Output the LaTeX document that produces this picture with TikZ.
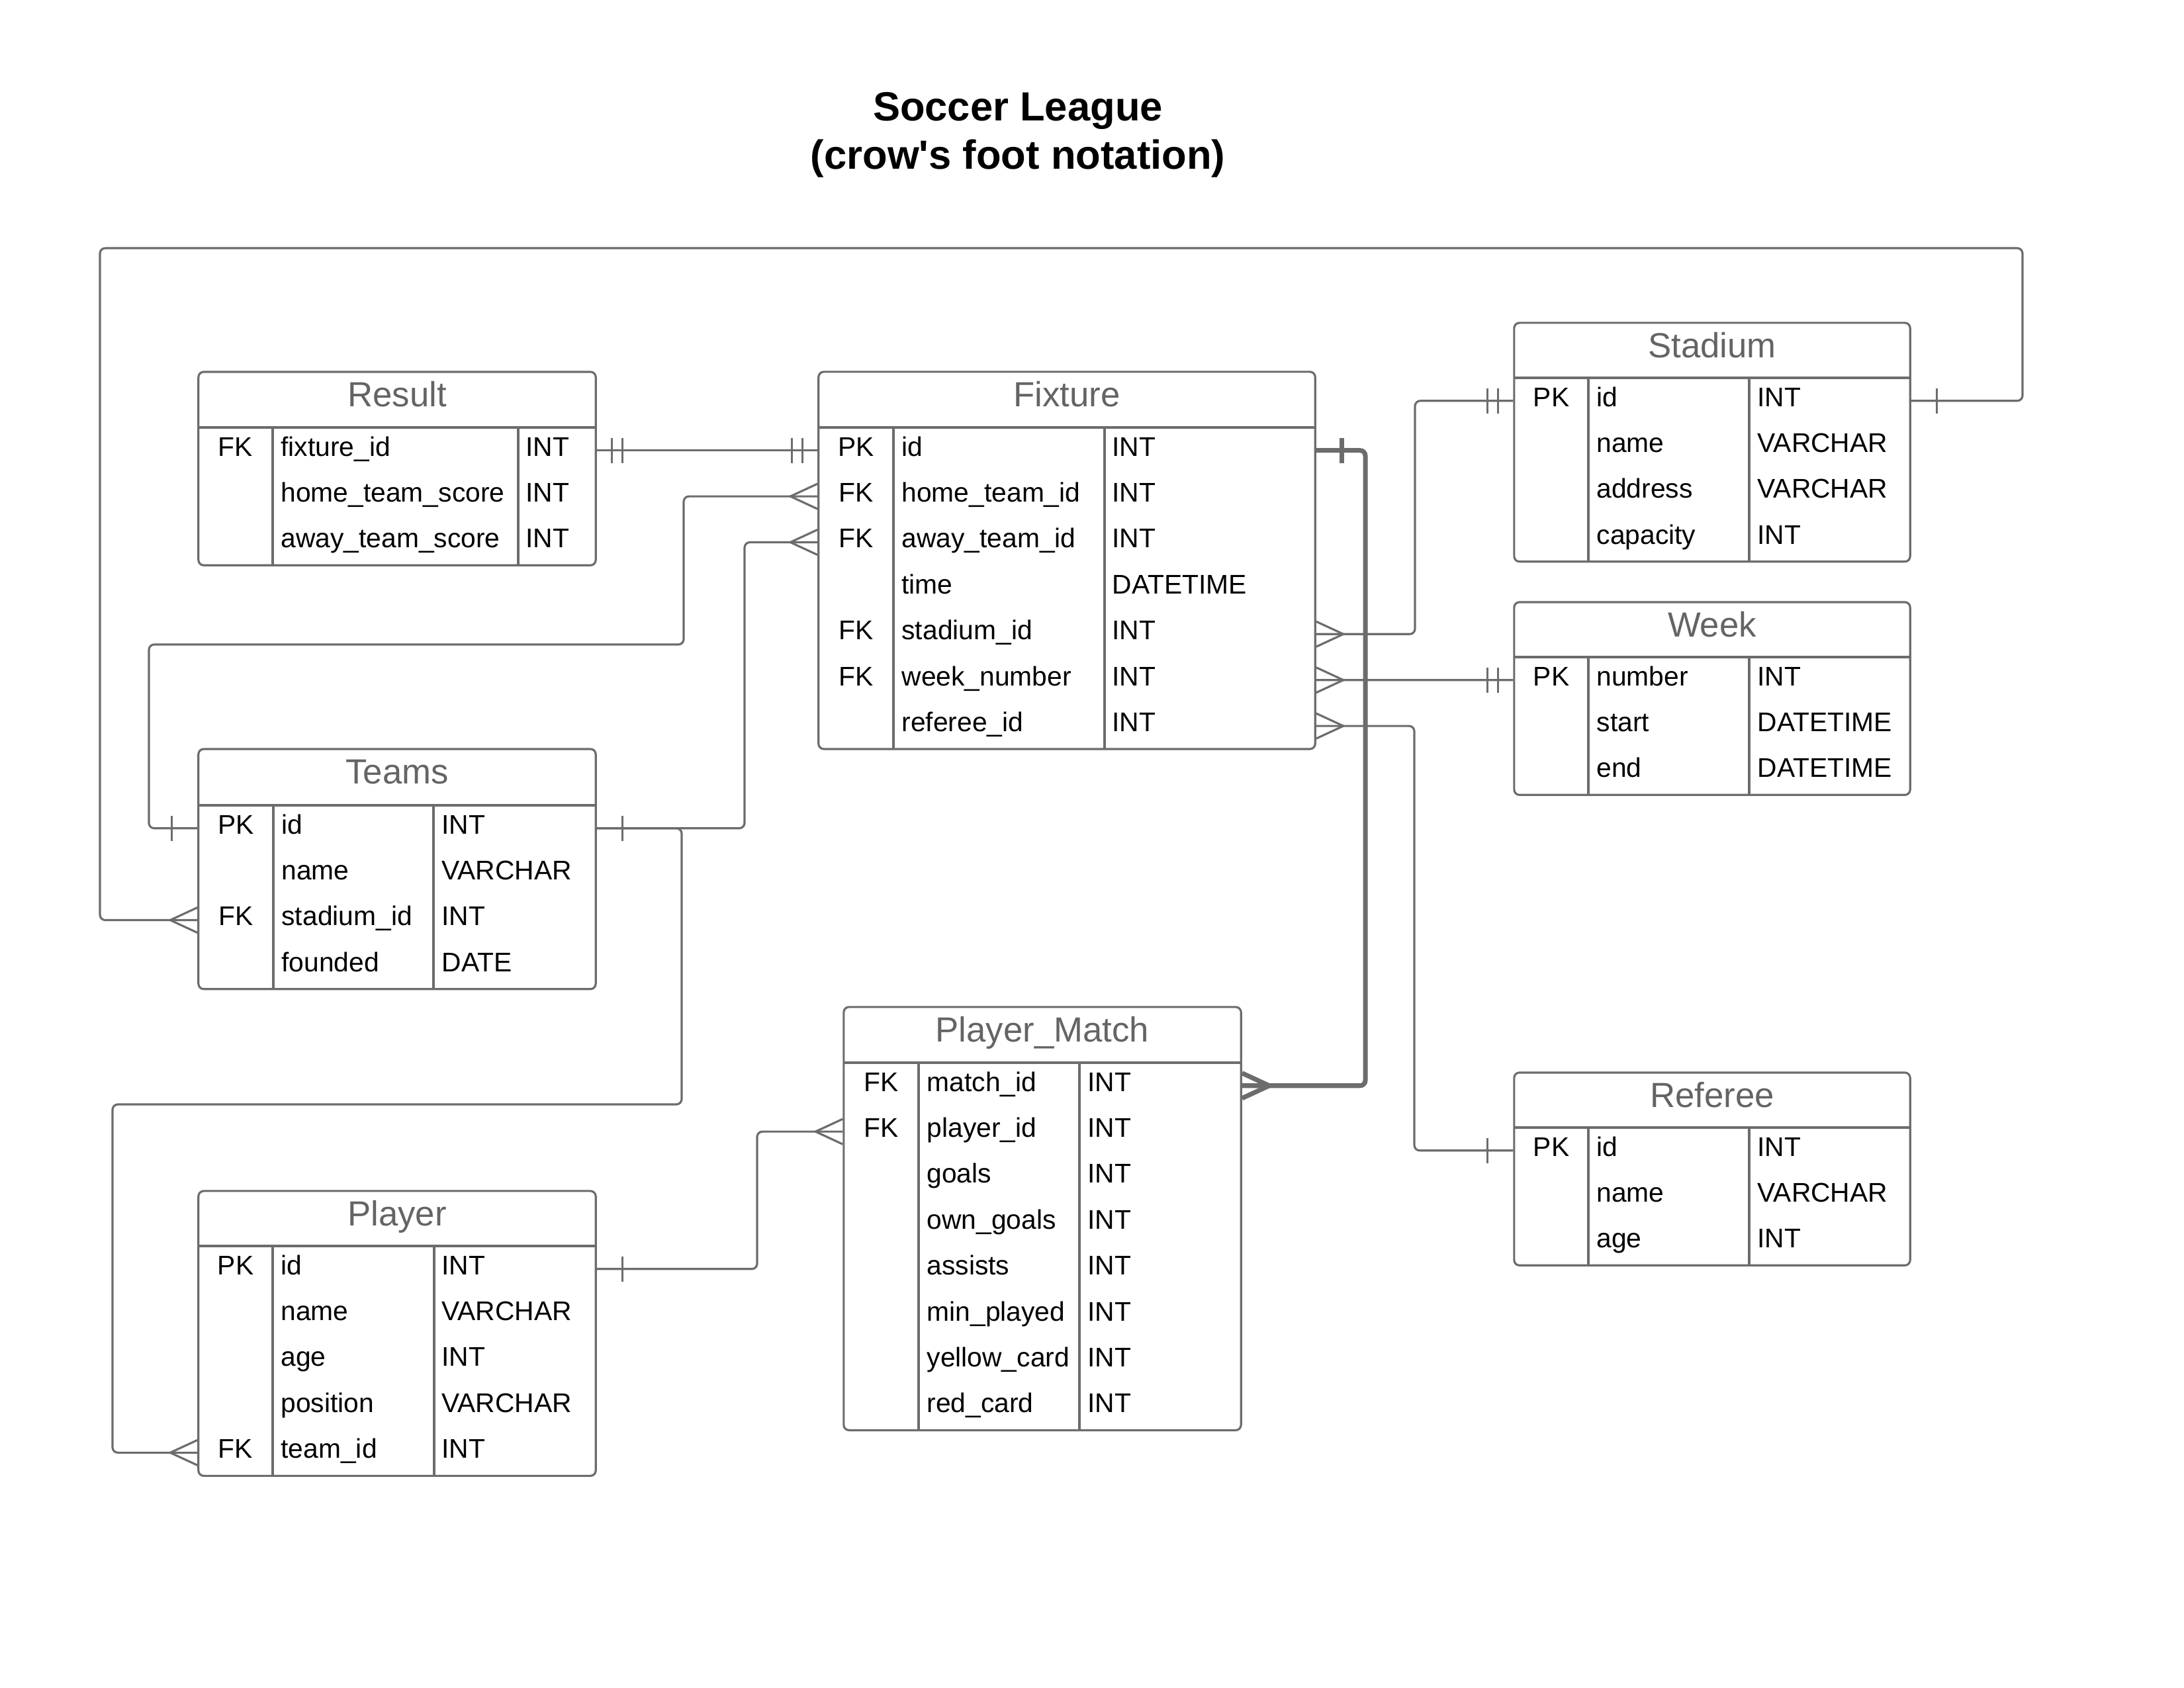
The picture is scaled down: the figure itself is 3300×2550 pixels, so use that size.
\documentclass[tikz,border=0pt]{standalone}
\usepackage{fontspec}
\setmainfont{Liberation Sans}
\usetikzlibrary{decorations.markings}
\definecolor{linegray}{RGB}{108,108,108}
\definecolor{titlegray}{RGB}{100,100,100}

\begin{document}
\begin{tikzpicture}[
		x=0.01cm, y=-0.01cm,
		line width=0.9pt,
		tablebox/.style={draw=linegray, rounded corners=0.08cm, inner sep=0pt},
		divider/.style={draw=linegray},
		tabletitle/.style={anchor=base, inner sep=0pt, text=titlegray, font=\fontsize{15}{18}\selectfont},
		keytext/.style={anchor=base, inner sep=0pt, font=\fontsize{11.6}{14}\selectfont},
		fieldtext/.style={anchor=base west, inner sep=0pt, font=\fontsize{11.6}{14}\selectfont},
		fieldrow/.style={minimum height=0.694cm, inner sep=0pt},
		link/.style={color=linegray, rounded corners=0.08cm},
		one at start/.style={postaction={decorate, decoration={markings,
			mark=at position 0.39cm with {\draw[linegray, sharp corners] (0,-19) -- (0,19);}}}},
		one at end/.style={postaction={decorate, decoration={markings,
			mark=at position -0.39cm with {\draw[linegray, sharp corners] (0,-19) -- (0,19);}}}},
		onlyone at start/.style={postaction={decorate, decoration={markings,
			mark=at position 0.23cm with {\draw[linegray, sharp corners] (0,-19) -- (0,19);},
			mark=at position 0.39cm with {\draw[linegray, sharp corners] (0,-19) -- (0,19);}}}},
		onlyone at end/.style={postaction={decorate, decoration={markings,
			mark=at position -0.23cm with {\draw[linegray, sharp corners] (0,-19) -- (0,19);},
			mark=at position -0.39cm with {\draw[linegray, sharp corners] (0,-19) -- (0,19);}}}},
		many at start/.style={postaction={decorate, decoration={markings,
			mark=at position 0.41cm with {\draw[linegray, sharp corners] (-41,-19) -- (0,0) -- (-41,19);}}}},
		many at end/.style={postaction={decorate, decoration={markings,
			mark=at position -0.41cm with {\draw[linegray, sharp corners] (41,-19) -- (0,0) -- (41,19);}}}},
	]
	\useasboundingbox (0,0) rectangle (3300,2550);

	% heading
	\node[anchor=base, inner sep=0pt, font=\bfseries\fontsize{17.5}{21}\selectfont] (title-a) at (1538,182) {Soccer League};
	\node[anchor=base, inner sep=0pt, font=\bfseries\fontsize{17.5}{21}\selectfont] (title-b) at (1538,255) {(crow\textquotesingle s foot notation)};

	% Result
	\node[tablebox, minimum width=6cm, minimum height=2.922cm] (res) at (600,708.1) {};
	\node[tabletitle] (res-title) at (600,614) {Result};
	\draw[divider] (300,646) -- (900,646) (412,646) -- (412,854.2) (783,646) -- (783,854.2);
	\foreach \k/\n/\t [count=\i] in {FK/fixture\_id/INT, /home\_team\_score/INT, /away\_team\_score/INT} {
		\node[fieldrow, minimum width=6cm] (res-\i) at (600,{611.3+69.4*\i}) {};
		\node[keytext] (res-k\i) at (356,{619.6+69.4*\i}) {\k};
		\node[fieldtext] (res-n\i) at (423,{619.6+69.4*\i}) {\n};
		\node[fieldtext] (res-t\i) at (793,{619.6+69.4*\i}) {\t};
	}

	% Fixture
	\node[tablebox, minimum width=7.5cm, minimum height=5.698cm] (fix) at (1612,846.9) {};
	\node[tabletitle] (fix-title) at (1612,614) {Fixture};
	\draw[divider] (1237,646) -- (1987,646) (1350,646) -- (1350,1131.8) (1669,646) -- (1669,1131.8);
	\foreach \k/\n/\t [count=\i] in {PK/id/INT, FK/home\_team\_id/INT, FK/away\_team\_id/INT, /time/DATETIME,
			FK/stadium\_id/INT, FK/week\_number/INT, /referee\_id/INT} {
		\node[fieldrow, minimum width=7.5cm] (fix-\i) at (1612,{611.3+69.4*\i}) {};
		\node[keytext] (fix-k\i) at (1293.5,{619.6+69.4*\i}) {\k};
		\node[fieldtext] (fix-n\i) at (1361,{619.6+69.4*\i}) {\n};
		\node[fieldtext] (fix-t\i) at (1679,{619.6+69.4*\i}) {\t};
	}

	% Stadium
	\node[tablebox, minimum width=5.98cm, minimum height=3.606cm] (st) at (2587,668.3) {};
	\node[tabletitle] (st-title) at (2587,540) {Stadium};
	\draw[divider] (2288,571) -- (2886,571) (2400,571) -- (2400,848.6) (2643,571) -- (2643,848.6);
	\foreach \k/\n/\t [count=\i] in {PK/id/INT, /name/VARCHAR, /address/VARCHAR, /capacity/INT} {
		\node[fieldrow, minimum width=5.98cm] (st-\i) at (2587,{536.3+69.4*\i}) {};
		\node[keytext] (st-k\i) at (2344,{544.6+69.4*\i}) {\k};
		\node[fieldtext] (st-n\i) at (2411,{544.6+69.4*\i}) {\n};
		\node[fieldtext] (st-t\i) at (2654,{544.6+69.4*\i}) {\t};
	}

	% Week
	\node[tablebox, minimum width=5.98cm, minimum height=2.912cm] (wk) at (2587,1055.6) {};
	\node[tabletitle] (wk-title) at (2587,962) {Week};
	\draw[divider] (2288,993) -- (2886,993) (2400,993) -- (2400,1201.2) (2643,993) -- (2643,1201.2);
	\foreach \k/\n/\t [count=\i] in {PK/number/INT, /start/DATETIME, /end/DATETIME} {
		\node[fieldrow, minimum width=5.98cm] (wk-\i) at (2587,{958.3+69.4*\i}) {};
		\node[keytext] (wk-k\i) at (2344,{966.6+69.4*\i}) {\k};
		\node[fieldtext] (wk-n\i) at (2411,{966.6+69.4*\i}) {\n};
		\node[fieldtext] (wk-t\i) at (2654,{966.6+69.4*\i}) {\t};
	}

	% Referee
	\node[tablebox, minimum width=5.98cm, minimum height=2.912cm] (ref) at (2587,1766.6) {};
	\node[tabletitle] (ref-title) at (2587,1673) {Referee};
	\draw[divider] (2288,1704) -- (2886,1704) (2400,1704) -- (2400,1912.2) (2643,1704) -- (2643,1912.2);
	\foreach \k/\n/\t [count=\i] in {PK/id/INT, /name/VARCHAR, /age/INT} {
		\node[fieldrow, minimum width=5.98cm] (ref-\i) at (2587,{1669.3+69.4*\i}) {};
		\node[keytext] (ref-k\i) at (2344,{1677.6+69.4*\i}) {\k};
		\node[fieldtext] (ref-n\i) at (2411,{1677.6+69.4*\i}) {\n};
		\node[fieldtext] (ref-t\i) at (2654,{1677.6+69.4*\i}) {\t};
	}

	% Teams
	\node[tablebox, minimum width=6cm, minimum height=3.626cm] (ts) at (600,1313.3) {};
	\node[tabletitle] (ts-title) at (600,1184) {Teams};
	\draw[divider] (300,1217) -- (900,1217) (413,1217) -- (413,1494.6) (655,1217) -- (655,1494.6);
	\foreach \k/\n/\t [count=\i] in {PK/id/INT, /name/VARCHAR, FK/stadium\_id/INT, /founded/DATE} {
		\node[fieldrow, minimum width=6cm] (ts-\i) at (600,{1182.3+69.4*\i}) {};
		\node[keytext] (ts-k\i) at (356.5,{1190.6+69.4*\i}) {\k};
		\node[fieldtext] (ts-n\i) at (424,{1190.6+69.4*\i}) {\n};
		\node[fieldtext] (ts-t\i) at (666,{1190.6+69.4*\i}) {\t};
	}

	% Player_Match
	\node[tablebox, minimum width=6cm, minimum height=6.392cm] (pm) at (1575,1841.6) {};
	\node[tabletitle] (pm-title) at (1575,1574) {Player\_Match};
	\draw[divider] (1275,1606) -- (1875,1606) (1388,1606) -- (1388,2161.2) (1631,1606) -- (1631,2161.2);
	\foreach \k/\n/\t [count=\i] in {FK/match\_id/INT, FK/player\_id/INT, /goals/INT, /own\_goals/INT,
			/assists/INT, /min\_played/INT, /yellow\_card/INT, /red\_card/INT} {
		\node[fieldrow, minimum width=6cm] (pm-\i) at (1575,{1571.3+69.4*\i}) {};
		\node[keytext] (pm-k\i) at (1331.5,{1579.6+69.4*\i}) {\k};
		\node[fieldtext] (pm-n\i) at (1399,{1579.6+69.4*\i}) {\n};
		\node[fieldtext] (pm-t\i) at (1642,{1579.6+69.4*\i}) {\t};
	}

	% Player
	\node[tablebox, minimum width=6cm, minimum height=4.302cm] (pl) at (600,2015.1) {};
	\node[tabletitle] (pl-title) at (600,1852) {Player};
	\draw[divider] (300,1883) -- (900,1883) (412,1883) -- (412,2230.2) (656,1883) -- (656,2230.2);
	\foreach \k/\n/\t [count=\i] in {PK/id/INT, /name/VARCHAR, /age/INT, /position/VARCHAR, FK/team\_id/INT} {
		\node[fieldrow, minimum width=6cm] (pl-\i) at (600,{1848.3+69.4*\i}) {};
		\node[keytext] (pl-k\i) at (356,{1856.6+69.4*\i}) {\k};
		\node[fieldtext] (pl-n\i) at (423,{1856.6+69.4*\i}) {\n};
		\node[fieldtext] (pl-t\i) at (666,{1856.6+69.4*\i}) {\t};
	}

	% Result -- Fixture
	\draw[link, onlyone at start, onlyone at end] (res-1.east) -- (fix-1.west);

	% Fixture -- Player_Match (bold)
	\draw[link, line width=2pt, one at start, many at end] (fix-1.east) -| (2063,1200) |- (pm-1.east);

	% Teams -- Fixture (home and away)
	\draw[link, one at start, many at end] (ts-1.west) -| (225,1100) |- (1033,974) |- (fix-2.west);
	\draw[link, one at start, many at end] (ts-1.east) -| (1125,1000) |- (fix-3.west);

	% Teams -- Player
	\draw[link, one at start, many at end] (ts-1.east) -| (1030,1500) |- (170,1669) |- (pl-5.west);

	% Stadium -- Teams (round the top)
	\draw[link, one at start, many at end] (st-1.east) -| (3056,500) |- (151,375) |- (ts-3.west);

	% Fixture -- Stadium, Week, Referee
	\draw[link, many at start, onlyone at end] (fix-5.east) -| (2138,800) |- (st-1.west);
	\draw[link, many at start, onlyone at end] (fix-6.east) -- (wk-1.west);
	\draw[link, many at start, one at end] (fix-7.east) -| (2137,1400) |- (ref-1.west);

	% Player -- Player_Match
	\draw[link, one at start, many at end] (pl-1.east) -| (1144,1800) |- (pm-2.west);
\end{tikzpicture}
\end{document}
